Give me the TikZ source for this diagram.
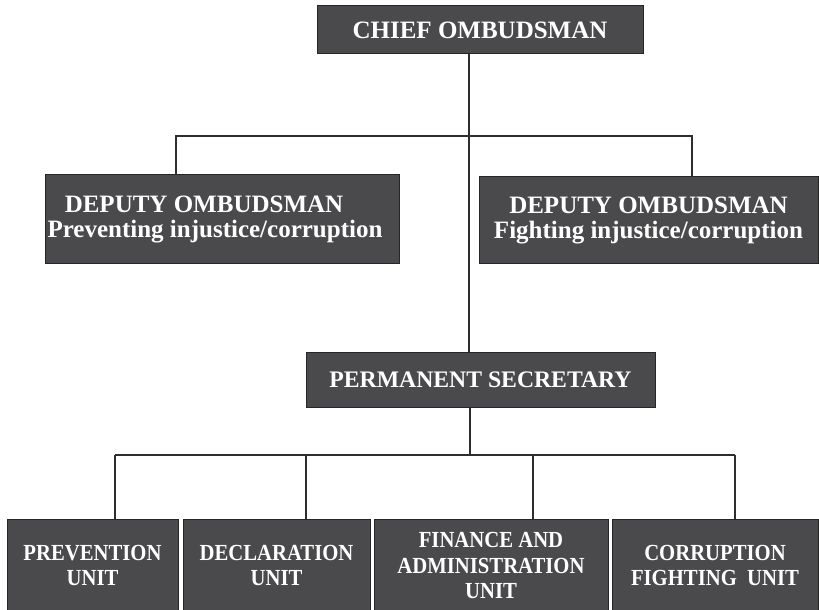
\documentclass[tikz,border=0pt]{standalone}
\usepackage{fontspec}
\setmainfont{Liberation Serif}
\newfontfamily\narrowfont[FakeStretch=0.9]{Liberation Serif}
\usepackage{tikz}
\definecolor{boxgray}{HTML}{4A4A4C}
\definecolor{linegray}{HTML}{2E2E2E}
\tikzset{
  office/.style={rectangle, draw=black!85, line width=1pt, fill=boxgray, text=white, font=\bfseries\fontsize{25}{25}\selectfont, align=center, inner sep=0pt},
  unit/.style={office, font=\narrowfont\bfseries\fontsize{23}{25.5}\selectfont},
  link/.style={draw=linegray, line width=1.1pt}
}
\begin{document}
\begin{tikzpicture}[x=1pt, y=-1pt]
        \useasboundingbox (0, 0) rectangle (819, 610);
        \node[office, minimum width=326, minimum height=48] (chief) at (480, 30) {CHIEF OMBUDSMAN};
        \node[office, minimum width=354, minimum height=89] (depL) at (222, 219) {DEPUTY OMBUDSMAN\hspace*{36pt}\\Preventing injustice/corruption\hspace*{14pt}};
        \node[office, minimum width=339, minimum height=87] (depR) at (648.5, 220) {DEPUTY OMBUDSMAN\\Fighting injustice/corruption};
        \node[office, font=\bfseries\fontsize{23.7}{25}\selectfont, minimum width=349, minimum height=55] (perm) at (480.5, 379.5) {PERMANENT SECRETARY};
        \node[unit, minimum width=171, minimum height=93] (prev) at (92.5, 565.5) {PREVENTION\\UNIT};
        \node[unit, minimum width=187, minimum height=93] (decl) at (276.5, 565.5) {DECLARATION\\UNIT};
        \node[unit, minimum width=234, minimum height=93] (fin) at (491, 565.5) {FINANCE AND\\ADMINISTRATION\\UNIT};
        \node[unit, minimum width=206, minimum height=93] (corr) at (715, 565.5) {CORRUPTION\\FIGHTING\ \ UNIT};
        % junctions
        \coordinate (topbar) at (469, 136);
        \coordinate (lowbar) at (470, 455);
        \coordinate (dl) at (176, 136);
        \coordinate (dr) at (692, 136);
        \coordinate (u1) at (115, 455);
        \coordinate (u2) at (306, 455);
        \coordinate (u3) at (533, 455);
        \coordinate (u4) at (735, 455);
        \draw[link] (chief.south -| topbar) -- (perm.north -| topbar);
        \draw[link] (depL.north -| dl) -- (dl) -- (dr) -- (depR.north -| dr);
        \draw[link] (perm.south -| lowbar) -- (lowbar);
        \draw[link] (u1) -- (u4);
        \draw[link] (u1) -- (prev.north -| u1);
        \draw[link] (u2) -- (decl.north -| u2);
        \draw[link] (u3) -- (fin.north -| u3);
        \draw[link] (u4) -- (corr.north -| u4);
    \end{tikzpicture}
\end{document}
